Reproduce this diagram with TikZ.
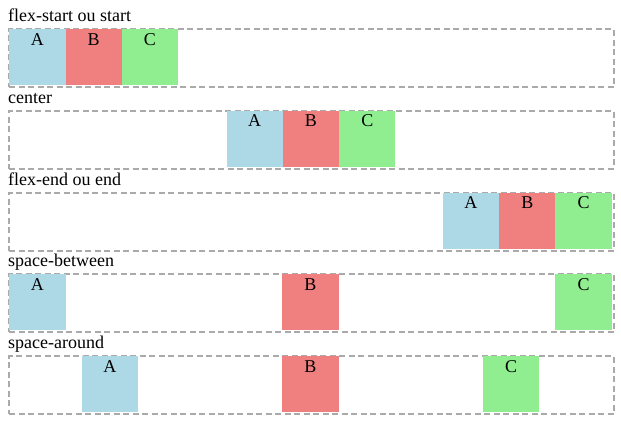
\documentclass[tikz,border=0pt]{standalone}
\usepackage{fontspec}
\setmainfont{Liberation Serif}
\definecolor{boxA}{HTML}{ADD8E6}
\definecolor{boxB}{HTML}{F08080}
\definecolor{boxC}{HTML}{90EE90}
\definecolor{frame}{HTML}{AAAAAA}
\tikzset{
  txt/.style={font=\fontsize{18}{20}\selectfont, inner sep=0pt},
  rowlabel/.style={txt, anchor=base west},
  container/.style={draw=frame, line width=2pt, dash pattern=on 6pt off 3.5pt,
    minimum width=604.5pt, minimum height=58pt, inner sep=0pt, anchor=north west},
  item/.style={minimum width=56.3pt, minimum height=56pt, inner sep=0pt, anchor=north west,
    label={[txt, anchor=base, yshift=-16pt]north:#1}},
}
\begin{document}
\begin{tikzpicture}[x=1pt,y=-1pt]
\useasboundingbox (0,0) rectangle (621,421);
% row 1
\node[rowlabel] (l1) at (8,21.5) {flex-start ou start};
\node[container] (c1) at (8,28) {};
\node[item=A, fill=boxA] (a1) at (9,29) {};
\node[item=B, fill=boxB] (b1) at (65.3,29) {};
\node[item=C, fill=boxC] (c1c) at (121.6,29) {};
% row 2
\node[rowlabel] (l2) at (8,103.25) {center};
\node[container] (c2) at (8,109.75) {};
\node[item=A, fill=boxA] (a2) at (226.3,110.75) {};
\node[item=B, fill=boxB] (b2) at (282.6,110.75) {};
\node[item=C, fill=boxC] (c2c) at (338.9,110.75) {};
% row 3
\node[rowlabel] (l3) at (8,185) {flex-end ou end};
\node[container] (c3) at (8,191.5) {};
\node[item=A, fill=boxA] (a3) at (442.6,192.5) {};
\node[item=B, fill=boxB] (b3) at (498.9,192.5) {};
\node[item=C, fill=boxC] (c3c) at (555.2,192.5) {};
% row 4
\node[rowlabel] (l4) at (8,266.75) {space-between};
\node[container] (c4) at (8,273.25) {};
\node[item=A, fill=boxA] (a4) at (9,274.25) {};
\node[item=B, fill=boxB] (b4) at (282.1,274.25) {};
\node[item=C, fill=boxC] (c4c) at (555.2,274.25) {};
% row 5
\node[rowlabel] (l5) at (8,348.5) {space-around};
\node[container] (c5) at (8,355) {};
\node[item=A, fill=boxA] (a5) at (81.5,356) {};
\node[item=B, fill=boxB] (b5) at (282.1,356) {};
\node[item=C, fill=boxC] (c5c) at (482.7,356) {};
\end{tikzpicture}
\end{document}
